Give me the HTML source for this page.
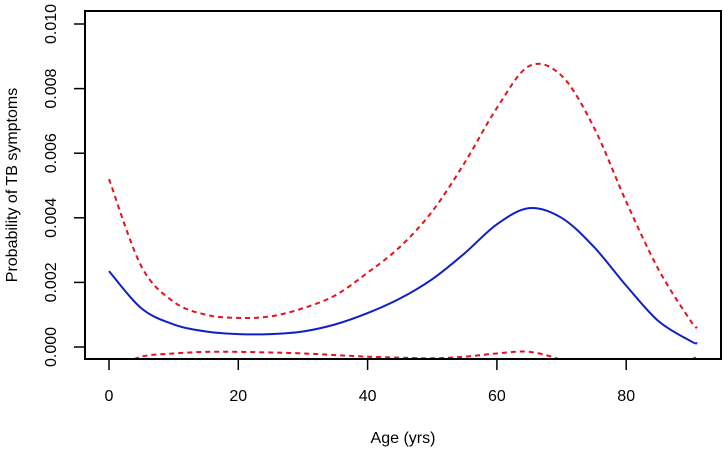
<!DOCTYPE html>
<html><head><meta charset="utf-8"><style>
html,body{margin:0;padding:0;background:#fff;}
svg{display:block;font-family:"Liberation Sans",Arial,sans-serif;}
</style></head><body>
<svg id="chart" width="724" height="449">
<defs><clipPath id="plotclip"><rect x="85" y="11" width="636" height="348"/></clipPath></defs>
<g id="marks" clip-path="url(#plotclip)"></g>
<rect x="85" y="11" width="636" height="348" fill="none" stroke="#000" stroke-width="2"/>
<g id="axes"></g>
<text x="403" y="443" font-size="16" text-anchor="middle">Age (yrs)</text>
<text transform="translate(17,185) rotate(-90)" font-size="16" text-anchor="middle">Probability of TB symptoms</text>
</svg>
<script>
const ages =   [0, 5, 10, 15, 20, 25, 30, 35, 40, 45, 50, 55, 60, 65, 70, 75, 80, 85, 90, 91];
const fitted = [0.00235,0.0012,0.0007,0.00048,0.0004,0.0004,0.00048,0.0007,0.00105,0.0015,0.0021,0.0029,0.0038,0.0043,0.0040,0.0031,0.0019,0.0008,0.00018,0.00012];
const upper =  [0.0052,0.0025,0.0014,0.001,0.0009,0.00095,0.0012,0.0016,0.0023,0.0031,0.0042,0.0057,0.0074,0.0087,0.0084,0.0068,0.0045,0.0024,0.0008,0.0006];
const lower =  [-0.0007,-0.0003,-0.0002,-0.00015,-0.00015,-0.00017,-0.0002,-0.00025,-0.0003,-0.00033,-0.00035,-0.0003,-0.0002,-0.00015,-0.0004,-0.0008,-0.001,-0.0009,-0.0004,-0.0003];
const xTicks = [0,20,40,60,80];
const yTicks = [0,0.002,0.004,0.006,0.008,0.010];
const yTickLabels = ["0.000","0.002","0.004","0.006","0.008","0.010"];

const NS="http://www.w3.org/2000/svg";
const X = a => 109 + a*6.465;
const Y = v => 347 - v*32300;

function smoothPath(xs, ys){
  const p = xs.map((a,i)=>[X(a),Y(ys[i])]);
  let d = `M${p[0][0]},${p[0][1]}`;
  for(let i=0;i<p.length-1;i++){
    const p0=p[Math.max(0,i-1)],p1=p[i],p2=p[i+1],p3=p[Math.min(p.length-1,i+2)];
    const c1=[p1[0]+(p2[0]-p0[0])/6,p1[1]+(p2[1]-p0[1])/6];
    const c2=[p2[0]-(p3[0]-p1[0])/6,p2[1]-(p3[1]-p1[1])/6];
    d+=` C${c1[0]},${c1[1]} ${c2[0]},${c2[1]} ${p2[0]},${p2[1]}`;
  }
  return d;
}
const marks=document.getElementById('marks');
function addLine(ys,color,dash,name){
  const el=document.createElementNS(NS,'path');
  el.setAttribute('d',smoothPath(ages,ys));
  el.setAttribute('fill','none');
  el.setAttribute('stroke',color);
  el.setAttribute('stroke-width','2');
  if(dash) el.setAttribute('stroke-dasharray',dash);
  
  
  marks.appendChild(el);
}
addLine(upper,'#e8101c','5,4','upper-ci-line');
addLine(lower,'#e8101c','5,4','lower-ci-line');
addLine(fitted,'#1020c8',null,'fitted-line');

const axes=document.getElementById('axes');
xTicks.forEach(t=>{
  const l=document.createElementNS(NS,'line');
  l.setAttribute('x1',X(t));l.setAttribute('x2',X(t));l.setAttribute('y1',359);l.setAttribute('y2',370);
  l.setAttribute('stroke','#000');l.setAttribute('stroke-width','1.5');
  
  
  axes.appendChild(l);
  const tx=document.createElementNS(NS,'text');
  tx.setAttribute('x',X(t));tx.setAttribute('y',401);tx.setAttribute('font-size','16');tx.setAttribute('text-anchor','middle');
  tx.textContent=t;
  
  
  axes.appendChild(tx);
});
yTicks.forEach((t,i)=>{
  const l=document.createElementNS(NS,'line');
  l.setAttribute('x1',74);l.setAttribute('x2',85);l.setAttribute('y1',Y(t));l.setAttribute('y2',Y(t));
  l.setAttribute('stroke','#000');l.setAttribute('stroke-width','1.5');
  
  
  axes.appendChild(l);
  const tx=document.createElementNS(NS,'text');
  tx.setAttribute('transform',`translate(56,${Y(t)}) rotate(-90)`);
  tx.setAttribute('font-size','16');tx.setAttribute('text-anchor','middle');
  tx.textContent=yTickLabels[i];
  
  
  axes.appendChild(tx);
});
</script>
</body></html>
